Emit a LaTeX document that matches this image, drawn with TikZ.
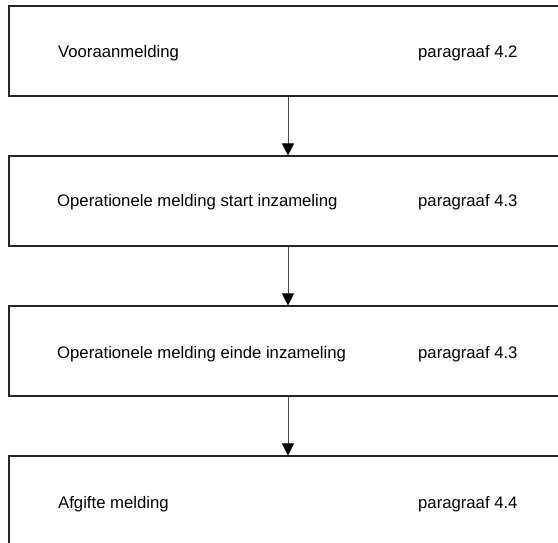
\documentclass[tikz,border=0pt]{standalone}
\usepackage{fontspec}
\setmainfont{Liberation Sans}
\usetikzlibrary{arrows.meta}
\begin{document}
\begin{tikzpicture}[x=1pt,y=-1pt,
    stap/.style={draw=black!85,line width=1.1pt,minimum width=558pt,minimum height=90pt,inner sep=0pt},
    tekst/.style={anchor=base west,inner sep=0pt,font=\fontsize{16.7}{20}\selectfont},
    pijl/.style={-{Triangle[width=12pt,length=12pt,color=black]},line width=1pt,draw=black!70}]
    \useasboundingbox (0,0) rectangle (558,543);
    % de vier stappen
    \node[stap] (b1) at (288,51) {};
    \node[stap] (b2) at (288,201) {};
    \node[stap] (b3) at (288,351) {};
    \node[stap] (b4) at (288,501) {};
    % teksten
    \node[tekst] (t1) at (58,58) {Vooraanmelding};
    \node[tekst] (p1) at (418,58) {paragraaf 4.2};
    \node[tekst] (t2) at (57,207) {Operationele melding start inzameling};
    \node[tekst] (p2) at (418,207) {paragraaf 4.3};
    \node[tekst] (t3) at (57,358) {Operationele melding einde inzameling};
    \node[tekst] (p3) at (418,358) {paragraaf 4.3};
    \node[tekst] (t4) at (58,508) {Afgifte melding};
    \node[tekst] (p4) at (418,508) {paragraaf 4.4};
    % pijlen
    \draw[pijl] (b1) -- (b2);
    \draw[pijl] (b2) -- (b3);
    \draw[pijl] (b3) -- (b4);
\end{tikzpicture}
\end{document}
